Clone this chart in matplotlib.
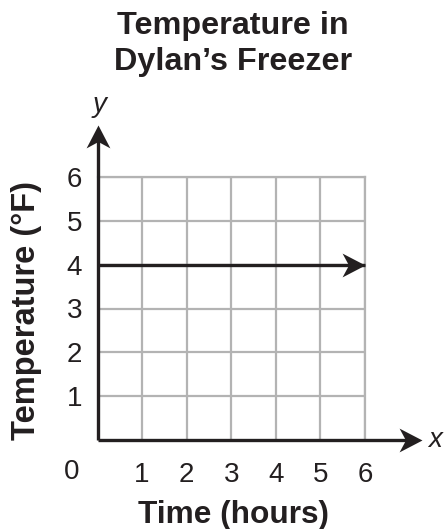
import matplotlib
matplotlib.use("Agg")
import matplotlib.pyplot as plt
from matplotlib.path import Path
import numpy as np

plt.rcParams['font.family'] = ['Liberation Sans', 'DejaVu Sans']

# Data
time_hours = [0, 6]
temperature_f = [4, 4]
x_ticks = [1, 2, 3, 4, 5, 6]
y_ticks = [1, 2, 3, 4, 5, 6]
title = "Temperature in\nDylan\u2019s Freezer"
x_label = "Time (hours)"
y_label = "Temperature (\u00b0F)"

INK = '#231f20'
GRID = '#b3b3b3'

W, H = 444, 529
fig = plt.figure(figsize=(W / 100, H / 100), dpi=100)
ax = fig.add_axes([97.5 / W, 1 - 440 / H, 267.5 / W, 263 / H])
ax.set_xlim(0, 6)
ax.set_ylim(0, 6)

for s in ax.spines.values():
    s.set_visible(False)

# grid
ax.set_xticks(x_ticks)
ax.set_yticks(y_ticks)
ax.grid(True, color=GRID, linewidth=1.6, zorder=1)
ax.tick_params(length=0, labelsize=20, colors=INK)
ax.tick_params(axis='x', pad=16)
ax.tick_params(axis='y', pad=11)
# top and right borders of grid
ax.plot([0, 6], [6, 6], color=GRID, linewidth=1.6, zorder=1, clip_on=False)
ax.plot([6, 6], [0, 6], color=GRID, linewidth=1.6, zorder=1, clip_on=False)

# arrowhead marker (tip at origin, pointing right)
verts = [(0, 0), (-1, 0.52), (-0.72, 0), (-1, -0.52), (0, 0)]
codes = [Path.MOVETO, Path.LINETO, Path.LINETO, Path.LINETO, Path.CLOSEPOLY]
arrow_right = Path(verts, codes)
arrow_up = Path([(-v[1], v[0]) for v in verts], codes)
MS = 33

# axes with arrows
xt = 7.27
yt = 7.18
ax.plot([0, xt - 0.2], [0, 0], color=INK, linewidth=2.4, clip_on=False, zorder=3, solid_capstyle='butt')
ax.plot([0, 0], [0, yt - 0.2], color=INK, linewidth=2.4, clip_on=False, zorder=3, solid_capstyle='butt')
ax.plot([xt], [0], marker=arrow_right, markersize=MS, color=INK, clip_on=False, zorder=4, markeredgewidth=0)
ax.plot([0], [yt], marker=arrow_up, markersize=MS, color=INK, clip_on=False, zorder=4, markeredgewidth=0)

# data line with arrow
ax.plot(time_hours, temperature_f, color=INK, linewidth=2.4, zorder=3, clip_on=False, solid_capstyle='butt')
ax.plot([time_hours[-1]], [temperature_f[-1]], marker=arrow_right, markersize=MS,
        color=INK, clip_on=False, zorder=4, markeredgewidth=0)

# axis letters
fig.text(100 / W, 1 - 105 / H, 'y', fontsize=20, style='italic', color=INK, ha='center', va='center')
fig.text(435 / W, 1 - 440 / H, 'x', fontsize=20, style='italic', color=INK, ha='center', va='center')
# origin label
fig.text(72 / W, 1 - 472 / H, '0', fontsize=20, color=INK, ha='center', va='center')

# labels
fig.text(233 / W, 1 - 515 / H, x_label, fontsize=22.8, fontweight='bold', color=INK, ha='center', va='center')
fig.text(27 / W, 1 - 310 / H, y_label, fontsize=23.5, fontweight='bold', color=INK, ha='center', va='center', rotation=90)
fig.text(233 / W, 1 - 11 / H, title, fontsize=23.3, fontweight='bold', color=INK, ha='center', va='top', linespacing=1.25)

fig.savefig('out.png', dpi=100)
